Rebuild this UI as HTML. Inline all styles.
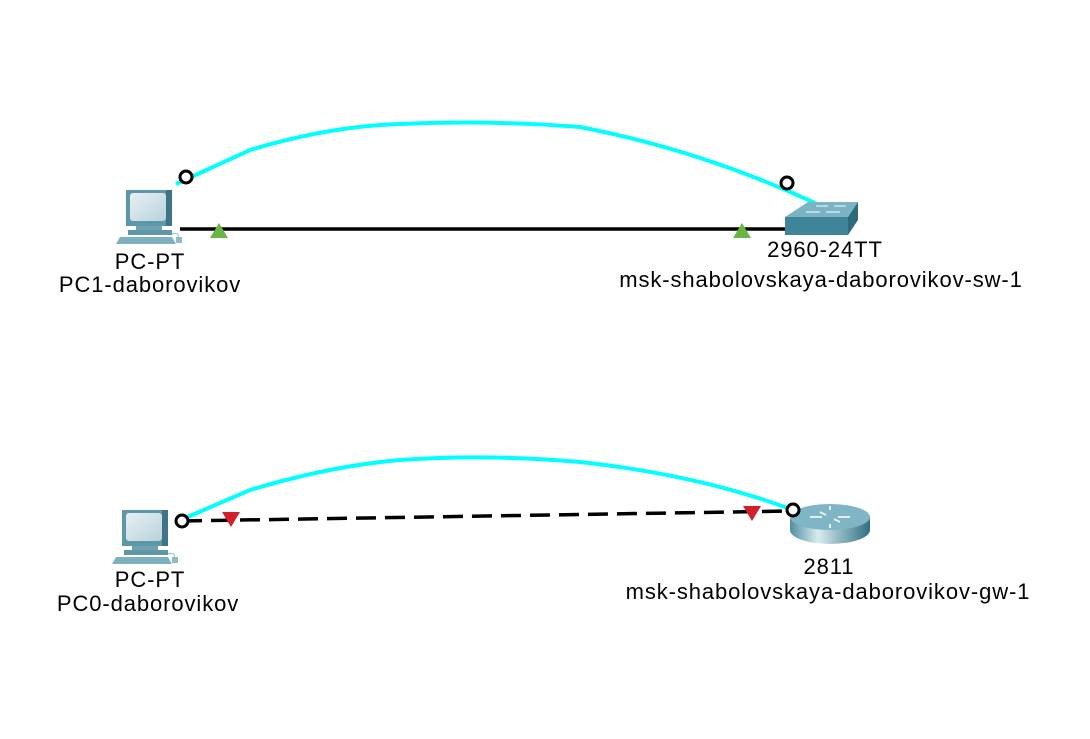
<!DOCTYPE html>
<html><head><meta charset="utf-8"><style>body{margin:0;background:#fff}svg{display:block}text{font-family:"Liberation Sans",Arial,sans-serif;font-size:22px;letter-spacing:0.9px;fill:#000}</style></head><body>
<svg width="1090" height="739" viewBox="0 0 1090 739" xmlns="http://www.w3.org/2000/svg">
<defs>
<linearGradient id="scr" x1="0" y1="0" x2="1" y2="1"><stop offset="0" stop-color="#e6f0f4"/><stop offset="1" stop-color="#b9d2dc"/></linearGradient>
<linearGradient id="rt" x1="0" y1="0" x2="1" y2="0"><stop offset="0" stop-color="#4f8ea0"/><stop offset="0.35" stop-color="#d8ecf0"/><stop offset="1" stop-color="#2f6f82"/></linearGradient>
<g id="pc">
<rect x="0" y="0" width="46" height="36" fill="#5e97a8"/>
<rect x="4" y="3" width="36" height="28" rx="3" fill="url(#scr)"/>
<rect x="40" y="0" width="6" height="36" fill="#3f7486"/>
<rect x="10" y="36" width="26" height="4" fill="#6fa2b2"/>
<rect x="2" y="40" width="44" height="5" fill="#5e97a8"/>
<polygon points="-6,47 46,47 50,54 -10,54" fill="#7fb0bf"/>
<rect x="50" y="47" width="6" height="6" fill="#8fbac8"/>
<path d="M46 44 q8 -2 6 4" stroke="#8fbac8" fill="none"/>
</g>
</defs>
<!-- top -->
<path d="M176 184 L250 150 Q 330 126 400 124 Q 490 120 580 127 Q 700 150 815 203" stroke="#00ffff" stroke-width="4" fill="none"/>
<line x1="180" y1="229" x2="787" y2="229" stroke="#000" stroke-width="3.5"/>
<use href="#pc" x="126" y="190"/>
<polygon points="808,202 858,202 848,217 785,217" fill="#7ab3c2"/>
<rect x="785" y="217" width="63" height="18" fill="#3f8599"/>
<polygon points="848,217 858,202 858,220 848,235" fill="#2d6a7c"/>
<path d="M806 212 h14 M826 212 h14 M816 206 h12 M834 206 h12" stroke="#d0e8ee" stroke-width="1.5"/>
<polygon points="219,223 210,238 228,238" fill="#6ab545"/>
<polygon points="742,223 733,238 751,238" fill="#6ab545"/>
<circle cx="186" cy="177" r="6" fill="#fff" stroke="#000" stroke-width="3"/>
<circle cx="787" cy="183" r="6" fill="#fff" stroke="#000" stroke-width="3"/>
<text x="150" y="269" text-anchor="middle">PC-PT</text>
<text x="150" y="292" text-anchor="middle">PC1-daborovikov</text>
<text x="825" y="257" text-anchor="middle">2960-24TT</text>
<text x="821" y="287" text-anchor="middle">msk-shabolovskaya-daborovikov-sw-1</text>
<!-- bottom -->
<path d="M183 519 L250 490 Q 330 466 400 460 Q 490 454 580 462 Q 700 475 793 510" stroke="#00ffff" stroke-width="4" fill="none"/>
<line x1="182" y1="521" x2="792" y2="511" stroke="#000" stroke-width="3.5" stroke-dasharray="20,9"/>
<use href="#pc" x="122" y="510"/>
<ellipse cx="830" cy="530" rx="40" ry="14" fill="url(#rt)"/>
<rect x="790" y="517" width="80" height="13" fill="url(#rt)"/>
<ellipse cx="830" cy="517" rx="40" ry="13" fill="#7fb5c4"/>
<path d="M810 517 h12 M838 517 h12 M830 510 v-4 M830 524 v4 M820 512 l6 3 M840 522 l-6 -3" stroke="#e0f0f4" stroke-width="2"/>
<polygon points="222,512 240,512 231,527" fill="#d0202e"/>
<polygon points="743,506 761,506 752,521" fill="#d0202e"/>
<circle cx="182" cy="521" r="6" fill="#fff" stroke="#000" stroke-width="3"/>
<circle cx="793" cy="510" r="6" fill="#fff" stroke="#000" stroke-width="3"/>
<text x="150" y="587" text-anchor="middle">PC-PT</text>
<text x="148" y="611" text-anchor="middle">PC0-daborovikov</text>
<text x="829" y="574" text-anchor="middle">2811</text>
<text x="828" y="599" text-anchor="middle">msk-shabolovskaya-daborovikov-gw-1</text>
</svg>
</body></html>
